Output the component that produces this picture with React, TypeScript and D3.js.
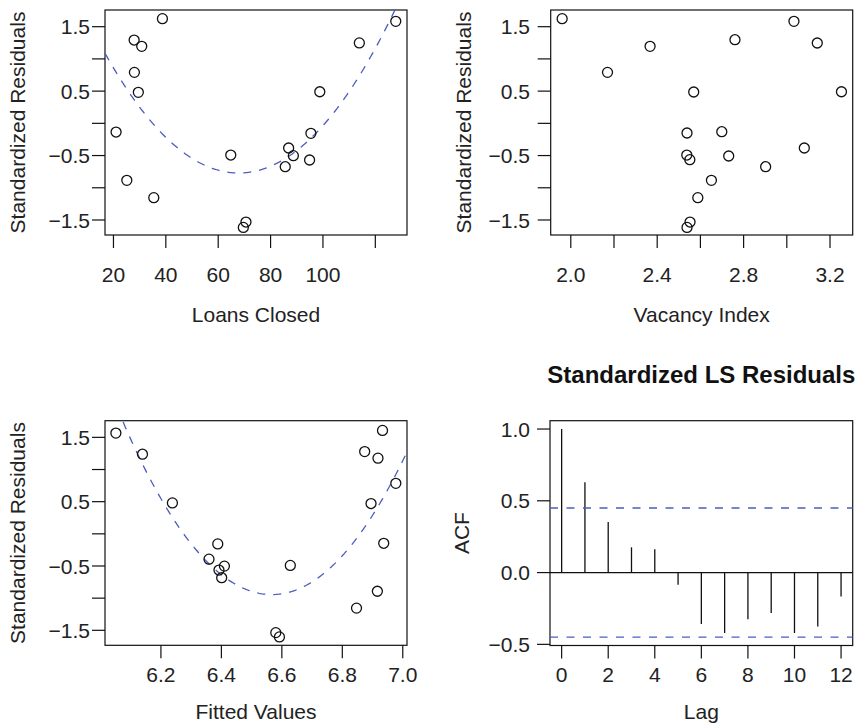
import React from "react";
import * as d3 from "d3";

// ---------- Data ----------
const loansClosed = [38.7, 27.9, 30.8, 28.0, 29.5, 21.0, 25.1, 35.4, 64.8, 70.6, 69.6, 85.6, 86.9, 88.7, 94.9, 95.4, 98.8, 113.9, 127.8];
const loansResid = [1.624, 1.293, 1.195, 0.791, 0.481, -0.135, -0.885, -1.154, -0.492, -1.532, -1.615, -0.673, -0.383, -0.502, -0.569, -0.155, 0.49, 1.248, 1.583];

const vacancyIndex = [1.96, 2.17, 2.367, 2.76, 2.569, 2.538, 2.699, 2.537, 2.551, 2.731, 2.651, 2.588, 2.552, 2.538, 2.902, 3.033, 3.141, 3.081, 3.253];
const vacancyResid = [1.624, 0.791, 1.195, 1.298, 0.486, -0.15, -0.13, -0.492, -0.564, -0.507, -0.885, -1.154, -1.532, -1.615, -0.673, 1.583, 1.247, -0.383, 0.49];

const fittedValues = [6.051, 6.139, 6.238, 6.388, 6.359, 6.392, 6.41, 6.401, 6.628, 6.58, 6.592, 6.847, 6.916, 6.874, 6.918, 6.933, 6.977, 6.895, 6.937];
const fittedResid = [1.567, 1.238, 0.481, -0.157, -0.394, -0.563, -0.502, -0.682, -0.491, -1.536, -1.603, -1.155, -0.893, 1.279, 1.176, 1.608, 0.785, 0.471, -0.147];

// quadratic trend curves: y = c0 + c1*(x - center) + c2*(x - center)^2
const loansCurve = { center: 0, coef: [2.509, -0.09665, 0.000712] };
const fittedCurve = { center: 6.572, coef: [-0.944, 0.117, 11.09] };

const acfLags = [0, 1, 2, 3, 4, 5, 6, 7, 8, 9, 10, 11, 12];
const acfValues = [1.0, 0.63, 0.352, 0.176, 0.162, -0.085, -0.358, -0.421, -0.326, -0.282, -0.421, -0.375, -0.167];
const acfBound = 0.4497;

// ---------- Ticks ----------
const residTicks = [-1.5, -1, -0.5, 0, 0.5, 1, 1.5];
const residLabels = [-1.5, -0.5, 0.5, 1.5];
const loansTicks = [20, 40, 60, 80, 100, 120];
const loansLabels = [20, 40, 60, 80, 100];
const vacTicks = [2.0, 2.2, 2.4, 2.6, 2.8, 3.0, 3.2];
const vacLabels = [2.0, 2.4, 2.8, 3.2];
const fitTicks = [6.2, 6.4, 6.6, 6.8, 7.0];
const fitLabels = [6.2, 6.4, 6.6, 6.8, 7.0];
const acfYTicks = [-0.5, 0, 0.5, 1.0];
const acfXTicks = [0, 2, 4, 6, 8, 10, 12];

const FONT = "'Liberation Sans', Arial, Helvetica, sans-serif";
const FS = 21;
const BLUE = "#4d5cc0";
const TICK = 13;

const fmt = (v: number, d: number) => (v < 0 ? "\u2212" : "") + Math.abs(v).toFixed(d);

type Box = { x0: number; x1: number; y0: number; y1: number };

function Frame({ box, xs, ys, xTicks, xLabels, xDec, yTicks, yLabels, yDec, xTitle, yTitle, xLabelBase, xTitleBase, yLabelX, yTitleX }: any) {
  return (
    <g>
      <rect x={box.x0} y={box.y0} width={box.x1 - box.x0} height={box.y1 - box.y0} fill="none" stroke="#111" strokeWidth={1.2} />
      {xTicks.map((t: number) => (
        <line key={"xt" + t} x1={xs(t)} x2={xs(t)} y1={box.y1} y2={box.y1 + TICK} stroke="#111" strokeWidth={1.2} />
      ))}
      {yTicks.map((t: number) => (
        <line key={"yt" + t} x1={box.x0 - TICK} x2={box.x0} y1={ys(t)} y2={ys(t)} stroke="#111" strokeWidth={1.2} />
      ))}
      {xLabels.map((t: number) => (
        <text key={"xl" + t} x={xs(t)} y={xLabelBase} textAnchor="middle" fontSize={FS} fontFamily={FONT} fill="#222">
          {fmt(t, xDec)}
        </text>
      ))}
      {yLabels.map((t: number) => (
        <text key={"yl" + t} x={yLabelX} y={ys(t)} dy="0.36em" textAnchor="end" fontSize={FS} fontFamily={FONT} fill="#222">
          {fmt(t, yDec)}
        </text>
      ))}
      <text x={(box.x0 + box.x1) / 2} y={xTitleBase} textAnchor="middle" fontSize={FS} fontFamily={FONT} fill="#222">
        {xTitle}
      </text>
      <text
        transform={`translate(${yTitleX},${(box.y0 + box.y1) / 2}) rotate(-90)`}
        textAnchor="middle"
        fontSize={FS}
        fontFamily={FONT}
        fill="#222"
      >
        {yTitle}
      </text>
    </g>
  );
}

function Scatter({ id, box, xs, ys, xv, yv, curve }: any) {
  let path: string | null = null;
  if (curve) {
    const [a, b] = xs.domain();
    const pts = d3.range(0, 201).map((i) => a + ((b - a) * i) / 200);
    const f = (x: number) => {
      const t = x - curve.center;
      return curve.coef[0] + curve.coef[1] * t + curve.coef[2] * t * t;
    };
    path = d3
      .line<number>()
      .x((x) => xs(x))
      .y((x) => ys(f(x)))(pts);
  }
  return (
    <g>
      <clipPath id={id}>
        <rect x={box.x0} y={box.y0} width={box.x1 - box.x0} height={box.y1 - box.y0} />
      </clipPath>
      {path && (
        <path d={path} fill="none" stroke={BLUE} strokeWidth={1.3} strokeDasharray="8,8" clipPath={`url(#${id})`} />
      )}
      {xv.map((x: number, i: number) => (
        <circle key={i} cx={xs(x)} cy={ys(yv[i])} r={5} fill="none" stroke="#111" strokeWidth={1.3} />
      ))}
    </g>
  );
}

export default function App() {
  const b1: Box = { x0: 105, x1: 407, y0: 10, y1: 235 };
  const b2: Box = { x0: 550.7, x1: 852.7, y0: 10, y1: 235 };
  const b3: Box = { x0: 105, x1: 407, y0: 420.7, y1: 645.3 };
  const b4: Box = { x0: 550, x1: 852.7, y0: 420.7, y1: 645.5 };

  const resDom = [-1.733, 1.759];
  const x1 = d3.scaleLinear().domain([16.77, 132.1]).range([b1.x0, b1.x1]);
  const y1 = d3.scaleLinear().domain(resDom).range([b1.y1, b1.y0]);
  const x2 = d3.scaleLinear().domain([1.907, 3.305]).range([b2.x0, b2.x1]);
  const y2 = d3.scaleLinear().domain(resDom).range([b2.y1, b2.y0]);
  const x3 = d3.scaleLinear().domain([6.015, 7.014]).range([b3.x0, b3.x1]);
  const y3 = d3.scaleLinear().domain(resDom).range([b3.y1, b3.y0]);
  const x4 = d3.scaleLinear().domain([-0.5, 12.5]).range([b4.x0, b4.x1]);
  const y4 = d3.scaleLinear().domain([-0.508, 1.058]).range([b4.y1, b4.y0]);

  const topLab = 281.7;
  const topTitle = 321.7;
  const botLab = 682;
  const botTitle = 719;

  return (
    <svg width={859} height={724} style={{ position: "absolute", left: 0, top: 0, display: "block", background: "#fff" }}>
      <rect x={0} y={0} width={859} height={724} fill="#fff" />
      {/* Panel 1 */}
      <Frame box={b1} xs={x1} ys={y1} xTicks={loansTicks} xLabels={loansLabels} xDec={0} yTicks={residTicks} yLabels={residLabels} yDec={1}
        xTitle="Loans Closed" yTitle="Standardized Residuals" xLabelBase={topLab} xTitleBase={topTitle} yLabelX={90} yTitleX={25} />
      <Scatter id="c1" box={b1} xs={x1} ys={y1} xv={loansClosed} yv={loansResid} curve={loansCurve} />

      {/* Panel 2 */}
      <Frame box={b2} xs={x2} ys={y2} xTicks={vacTicks} xLabels={vacLabels} xDec={1} yTicks={residTicks} yLabels={residLabels} yDec={1}
        xTitle="Vacancy Index" yTitle="Standardized Residuals" xLabelBase={topLab} xTitleBase={topTitle} yLabelX={530} yTitleX={471} />
      <Scatter id="c2" box={b2} xs={x2} ys={y2} xv={vacancyIndex} yv={vacancyResid} curve={null} />

      {/* Panel 3 */}
      <Frame box={b3} xs={x3} ys={y3} xTicks={fitTicks} xLabels={fitLabels} xDec={1} yTicks={residTicks} yLabels={residLabels} yDec={1}
        xTitle="Fitted Values" yTitle="Standardized Residuals" xLabelBase={botLab} xTitleBase={botTitle} yLabelX={90} yTitleX={25} />
      <Scatter id="c3" box={b3} xs={x3} ys={y3} xv={fittedValues} yv={fittedResid} curve={fittedCurve} />

      {/* Panel 4: ACF */}
      <text x={(b4.x0 + b4.x1) / 2} y={382.7} textAnchor="middle" fontSize={24} fontWeight="bold" fontFamily={FONT} fill="#111">
        Standardized LS Residuals
      </text>
      <Frame box={b4} xs={x4} ys={y4} xTicks={acfXTicks} xLabels={acfXTicks} xDec={0} yTicks={acfYTicks} yLabels={acfYTicks} yDec={1}
        xTitle="Lag" yTitle="ACF" xLabelBase={botLab} xTitleBase={botTitle} yLabelX={530} yTitleX={469} />
      <line x1={b4.x0} x2={b4.x1} y1={y4(0)} y2={y4(0)} stroke="#111" strokeWidth={1.2} />
      {acfLags.map((l, i) => (
        <line key={l} x1={x4(l)} x2={x4(l)} y1={y4(0)} y2={y4(acfValues[i])} stroke="#111" strokeWidth={1.3} />
      ))}
      {[acfBound, -acfBound].map((v) => (
        <line key={v} x1={b4.x0} x2={b4.x1} y1={y4(v)} y2={y4(v)} stroke={BLUE} strokeWidth={1.3} strokeDasharray="8,8.5" />
      ))}
    </svg>
  );
}
